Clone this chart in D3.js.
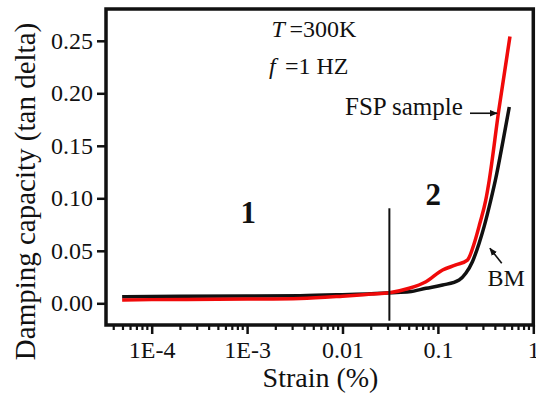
<!DOCTYPE html>
<html>
<head>
<meta charset="utf-8">
<script src="https://cdn.jsdelivr.net/npm/d3@7"></script>
<style>
  html, body { margin: 0; padding: 0; background: #fff; }
  svg { display: block; }
  text { font-family: "Liberation Serif", "Times New Roman", serif; fill: #111; }
</style>
</head>
<body>
<svg id="chart" width="536" height="397"></svg>
<script>
// ---- data ----
const bmStrain  = [4.9e-5, 1e-4, 1e-3, 3.6e-3, 0.01, 0.02, 0.031, 0.05, 0.075, 0.112, 0.167, 0.196, 0.23, 0.27, 0.305, 0.358, 0.40, 0.48, 0.56];
const bmValue   = [0.0063, 0.0065, 0.0069, 0.0072, 0.0082, 0.0091, 0.0101, 0.0110, 0.0143, 0.0174, 0.0222, 0.0286, 0.0396, 0.057, 0.073, 0.098, 0.117, 0.154, 0.187];
const fspStrain = [4.9e-5, 1e-4, 1e-3, 3.6e-3, 0.01, 0.02, 0.031, 0.05, 0.075, 0.112, 0.154, 0.204, 0.24, 0.275, 0.317, 0.345, 0.435, 0.569];
const fspValue  = [0.0032, 0.0035, 0.0040, 0.0046, 0.0068, 0.0088, 0.0101, 0.0143, 0.0206, 0.0317, 0.0365, 0.0412, 0.057, 0.076, 0.098, 0.117, 0.184, 0.254];
const xTickValues = [1e-4, 1e-3, 0.01, 0.1, 1];
const xTickLabels = ["1E-4", "1E-3", "0.01", "0.1", "1"];
const yTickValues = [0.00, 0.05, 0.10, 0.15, 0.20, 0.25];
const dividerStrain = 0.031;
const dividerRange = [-0.0166, 0.0905];
const fspArrow = [[0.217, 0.181], [0.417, 0.181]];
const bmArrow  = [[0.467, 0.0381], [0.351, 0.0524]];

// ---- layout ----
const L = 106, R = 533.3, T = 9, B = 325;
const svg = d3.select("#chart");

const x = d3.scaleLog().domain([Math.pow(10, -4.479), 1]).range([L, R]);
const y = d3.scaleLinear().domain([-(B - 303.3) / 1050, (303.3 - T) / 1050]).range([B, T]);

const defs = svg.append("defs");
defs.append("marker").attr("id", "ah").attr("viewBox", "0 0 10 10")
  .attr("refX", 9).attr("refY", 5).attr("markerWidth", 5).attr("markerHeight", 5)
  .attr("orient", "auto").attr("markerUnits", "strokeWidth")
  .append("path").attr("d", "M0,1 L10,5 L0,9 z").attr("fill", "#111");

const g = svg.append("g");

// ---- axes ----
const yAxis = d3.axisLeft(y).tickValues(yTickValues).tickFormat(d3.format(".2f"))
  .tickSize(9).tickPadding(4);
const ya = g.append("g").attr("transform", `translate(${L},0)`).call(yAxis);
ya.select(".domain").remove();
ya.selectAll("line").attr("stroke", "#111").attr("stroke-width", 2.5);
ya.selectAll("text").attr("font-size", 24).attr("font-family", "Liberation Serif").attr("fill", "#111");

// minor ticks for log axis
const minor = [];
for (let e = -5; e <= 0; e++) for (let k = 2; k <= 9; k++) {
  const v = k * Math.pow(10, e);
  if (v > x.domain()[0] && v < x.domain()[1]) minor.push(v);
}
g.append("g").selectAll("line").data(minor).join("line")
  .attr("x1", d => x(d)).attr("x2", d => x(d))
  .attr("y1", B).attr("y2", B + 5).attr("stroke", "#111").attr("stroke-width", 2.2);

const xAxis = d3.axisBottom(x).tickValues(xTickValues)
  .tickFormat((d, i) => xTickLabels[i]).tickSize(9).tickPadding(7);
const xa = g.append("g").attr("transform", `translate(0,${B})`).call(xAxis);
xa.select(".domain").remove();
xa.selectAll("line").attr("stroke", "#111").attr("stroke-width", 2.5);
xa.selectAll("text").attr("font-size", 24).attr("font-family", "Liberation Serif").attr("fill", "#111");

// frame
g.append("rect").attr("x", L).attr("y", T).attr("width", R - L).attr("height", B - T)
  .attr("fill", "none").attr("stroke", "#111").attr("stroke-width", 3.5);

// ---- lines ----
const line = d3.line().x(d => x(d[0])).y(d => y(d[1])).curve(d3.curveMonotoneX);
const bm = bmStrain.map((s, i) => [s, bmValue[i]]);
const fsp = fspStrain.map((s, i) => [s, fspValue[i]]);
g.append("path").datum(bm).attr("d", line).attr("fill", "none")
  .attr("stroke", "#111").attr("stroke-width", 3.5).attr("stroke-linejoin", "round");
g.append("path").datum(fsp).attr("d", line).attr("fill", "none")
  .attr("stroke", "#f00a0a").attr("stroke-width", 3.5).attr("stroke-linejoin", "round");

// divider
g.append("line").attr("x1", x(dividerStrain)).attr("x2", x(dividerStrain))
  .attr("y1", y(dividerRange[0])).attr("y2", y(dividerRange[1]))
  .attr("stroke", "#111").attr("stroke-width", 2);

// arrows
g.append("line").attr("x1", x(fspArrow[0][0])).attr("y1", y(fspArrow[0][1]))
  .attr("x2", x(fspArrow[1][0])).attr("y2", y(fspArrow[1][1]))
  .attr("stroke", "#111").attr("stroke-width", 1.6).attr("marker-end", "url(#ah)");
g.append("line").attr("x1", x(bmArrow[0][0])).attr("y1", y(bmArrow[0][1]))
  .attr("x2", x(bmArrow[1][0])).attr("y2", y(bmArrow[1][1]))
  .attr("stroke", "#111").attr("stroke-width", 1.6).attr("marker-end", "url(#ah)");

// ---- texts ----
const t1 = g.append("text").attr("x", 271.5).attr("y", 37).attr("font-size", 24);
t1.append("tspan").attr("font-style", "italic").text("T");
t1.append("tspan").attr("x", 289.5).text("=300K");
const t2 = g.append("text").attr("x", 269).attr("y", 74).attr("font-size", 24);
t2.append("tspan").attr("font-style", "italic").text("f");
t2.append("tspan").attr("x", 285).text("=1 HZ");

g.append("text").attr("x", 345).attr("y", 115).attr("font-size", 25).text("FSP sample");
g.append("text").attr("x", 487.5).attr("y", 286).attr("font-size", 24).text("BM");

g.append("text").attr("x", 248.3).attr("y", 223).attr("font-size", 31).attr("font-weight", "bold")
  .attr("text-anchor", "middle").text("1");
g.append("text").attr("x", 433.3).attr("y", 205).attr("font-size", 31).attr("font-weight", "bold")
  .attr("text-anchor", "middle").text("2");

// axis titles
g.append("text").attr("x", 320.5).attr("y", 386.5).attr("font-size", 28)
  .attr("text-anchor", "middle").text("Strain (%)");
g.append("text").attr("transform", "translate(35,191.5) rotate(-90)").attr("font-size", 29)
  .attr("text-anchor", "middle").text("Damping capacity (tan delta)");
</script>
</body>
</html>
